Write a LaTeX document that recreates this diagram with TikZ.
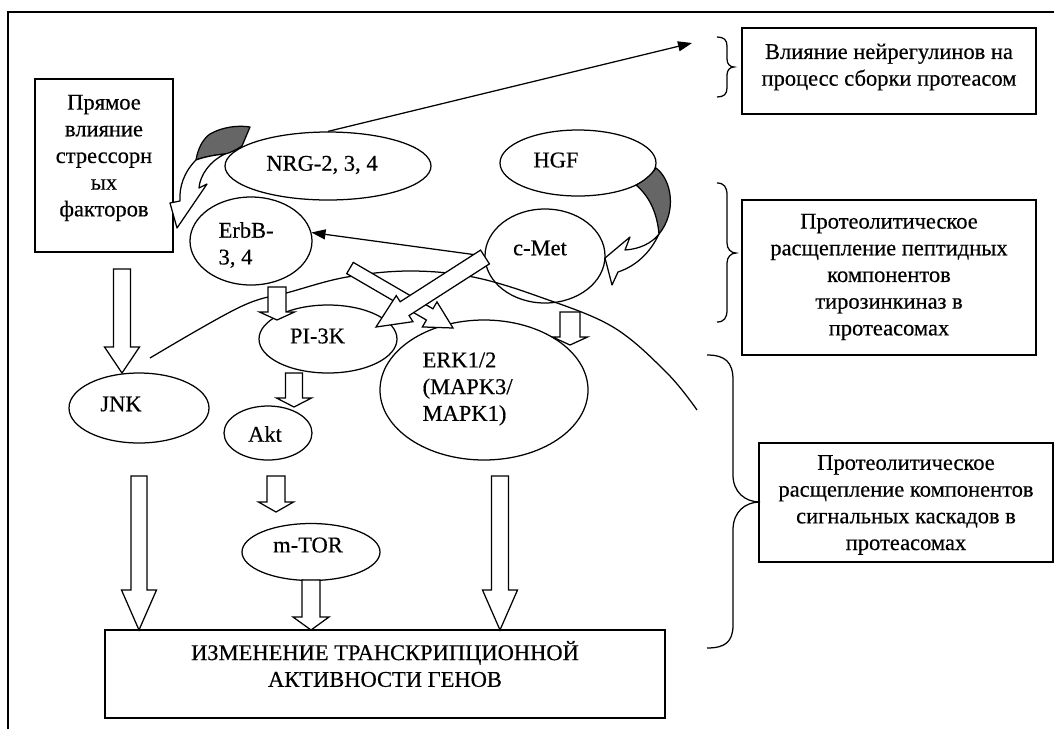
\documentclass[tikz,border=0pt]{standalone}
\usepackage{fontspec}
\setmainfont{Liberation Serif}[FakeBold=0.4]
\usetikzlibrary{calc,arrows.meta,shapes.geometric}
\newcommand\blockarr[5]{%
  \coordinate (ba-h) at ($(#2)!#5!(#1)$);
  \filldraw[blockarrow] ($(#1)!#3!90:(#2)$) -- ($(ba-h)!#3!-90:(#1)$) -- ($(ba-h)!#4!-90:(#1)$) -- (#2) -- ($(ba-h)!#4!90:(#1)$) -- ($(ba-h)!#3!90:(#1)$) -- ($(#1)!#3!-90:(#2)$) -- cycle;}
\begin{document}
\begin{tikzpicture}[x=1pt,y=-1pt,line width=1.25pt,
  ell/.style={draw,ellipse,inner sep=0pt},
  boxn/.style={draw,rectangle,inner sep=0pt},
  txt/.style={font=\fontsize{22.5pt}{26.7pt}\selectfont,align=center,inner sep=0pt},
  blockarrow/.style={draw,fill=white,line join=miter},
  thinarr/.style={-{Triangle[length=14pt,width=10pt]}},
  ribbon/.style={draw,line join=round}]
\useasboundingbox (0,0) rectangle (1054,729);
% frame
\draw (8,729) -- (8,12) -- (1054,12);
% membrane
\draw plot[smooth,tension=0.6] coordinates {(150,358) (240,307) (290,292) (347,277) (410,271) (473,277) (540,297) (613,327) (667,373) (697,410)};
% boxes
\node[boxn,minimum width=138pt,minimum height=173pt] (stress) at (104,165.5) {};
\node[txt] (stresst) at (104,158) {Прямое\\влияние\\стрессорн\\ых\\факторов};
\node[boxn,minimum width=294pt,minimum height=86pt] (b1) at (889,71) {};
\node[txt] (b1t) at (889,67) {Влияние нейрегулинов на\\процесс сборки протеасом};
\node[boxn,minimum width=294pt,minimum height=155pt] (b2) at (889,277.5) {};
\node[txt] (b2t) at (889,277) {Протеолитическое\\расщепление пептидных\\компонентов\\тирозинкиназ в\\протеасомах};
\node[boxn,minimum width=294pt,minimum height=119pt] (b3) at (906,502.5) {};
\node[txt] (b3t) at (906,505) {Протеолитическое\\расщепление компонентов\\сигнальных каскадов в\\протеасомах};
\node[boxn,minimum width=560pt,minimum height=88pt] (gene) at (385,674) {};
\node[txt] (genet) at (385,664) {ИЗМЕНЕНИЕ ТРАНСКРИПЦИОННОЙ\\АКТИВНОСТИ ГЕНОВ};
% ellipses
\node[ell,minimum width=206pt,minimum height=68pt] (nrg) at (328,166) {};
\node[txt] (nrgt) at (322,165) {NRG-2, 3, 4};
\node[ell,minimum width=156pt,minimum height=66pt] (hgf) at (578,163) {};
\node[txt] (hgft) at (556,160) {HGF};
\node[ell,minimum width=120pt,minimum height=94pt] (cmet) at (545,256) {};
\node[txt] (cmett) at (540,248) {c-Met};
\node[ell,minimum width=122pt,minimum height=88pt] (erbb) at (251,241) {};
\node[txt,align=left,anchor=west] (erbbt) at (218,245) {ErbB-\\3, 4};
\node[ell,minimum width=138pt,minimum height=68pt] (pi3k) at (328,339) {};
\node[txt] (pi3kt) at (317.5,336) {PI-3K};
\node[ell,minimum width=140pt,minimum height=70pt] (jnk) at (139,408) {};
\node[txt] (jnkt) at (121,404) {JNK};
\node[ell,minimum width=88pt,minimum height=54pt] (akt) at (268,433) {};
\node[txt] (aktt) at (265,434) {Akt};
\node[ell,minimum width=208pt,minimum height=140pt] (erk) at (484,390) {};
\node[txt,align=left,anchor=west] (erkt) at (422,389) {ERK1/2\\(MAPK3/\\MAPK1)};
\node[ell,minimum width=138pt,minimum height=57pt] (mtor) at (311,552) {};
\node[txt] (mtort) at (308,545) {m-TOR};
% thin arrows
\coordinate (b1in) at (692,43);
\draw[thinarr] (nrg.north) -- (b1in);
\draw[thinarr] (cmet.west) -- (erbb.8);
% block arrows
\coordinate (a1s) at (122,269); \coordinate (a1e) at (122,373);
\blockarr{a1s}{a1e}{8.5pt}{17.5pt}{26pt}
\coordinate (a2s) at (277,287); \coordinate (a2e) at (277,320);
\blockarr{a2s}{a2e}{9pt}{17.5pt}{8pt}
\coordinate (a3s) at (294,373); \coordinate (a3e) at (294,407);
\blockarr{a3s}{a3e}{8.5pt}{17.5pt}{9pt}
\coordinate (a4s) at (570,312); \coordinate (a4e) at (570,345);
\blockarr{a4s}{a4e}{10pt}{17.5pt}{8pt}
\coordinate (a5s) at (139,476); \coordinate (a5e) at (139,630);
\blockarr{a5s}{a5e}{8pt}{17.5pt}{40pt}
\coordinate (a6s) at (276,476); \coordinate (a6e) at (276,512);
\blockarr{a6s}{a6e}{9pt}{17.5pt}{10pt}
\coordinate (a7s) at (311,580); \coordinate (a7e) at (311,630);
\blockarr{a7s}{a7e}{9pt}{18pt}{13pt}
\coordinate (a8s) at (500,476); \coordinate (a8e) at (500,630);
\blockarr{a8s}{a8e}{8.5pt}{17.5pt}{40pt}
% diagonal arrows
\coordinate (d2s) at (350,268); \coordinate (d2e) at (453,328);
\blockarr{d2s}{d2e}{6.5pt}{14.5pt}{27pt}
\coordinate (d1s) at (485,257); \coordinate (d1e) at (376,327);
\blockarr{d1s}{d1e}{8.2pt}{15.5pt}{34pt}
% curved arrow NRG -> ErbB
\filldraw[ribbon,fill=black!60] (196,160) .. controls (198,148) and (203,139) .. (210,134) .. controls (222,127) and (238,125) .. (250,127) -- (242,146) .. controls (236,150) and (230,153) .. (225,154) .. controls (214,155) and (204,157) .. (196,160) -- cycle;
\filldraw[ribbon,fill=white] (196,160) .. controls (184,172) and (179,187) .. (180,201) -- (170,203) -- (177,228) -- (207,184) -- (199,188) .. controls (200,175) and (210,161) .. (225,154) .. controls (214,155) and (204,157) .. (196,160) -- cycle;
% curved arrow HGF -> c-Met
\filldraw[ribbon,fill=black!60] (656,168) .. controls (672,180) and (677,212) .. (659,234) .. controls (657,212) and (649,196) .. (636,185) .. controls (644,181) and (651,175) .. (656,168) -- cycle;
\filldraw[ribbon,fill=white] (659,234) .. controls (650,253) and (636,266) .. (618,272) -- (612,285) -- (605,258) -- (630,237) -- (625,250) .. controls (640,249) and (652,243) .. (659,234) -- cycle;
% braces
\draw (717,37) .. controls (724,37) and (727,40) .. (727,46) -- (727,59) .. controls (727,64) and (730,67) .. (734,67) .. controls (730,67) and (727,70) .. (727,75) -- (727,88) .. controls (727,94) and (724,97) .. (717,97);
\draw (717,183) .. controls (724,183) and (727,187) .. (727,195) -- (727,243) .. controls (727,249) and (731,253) .. (736,253) .. controls (731,253) and (727,257) .. (727,263) -- (727,310) .. controls (727,318) and (724,322) .. (717,322);
\draw (707,355) .. controls (725,355) and (733,362) .. (733,380) -- (733,475) .. controls (733,492) and (745,502) .. (760,502) .. controls (745,502) and (733,512) .. (733,530) -- (733,625) .. controls (733,642) and (725,648) .. (707,648);
\end{tikzpicture}
\end{document}
